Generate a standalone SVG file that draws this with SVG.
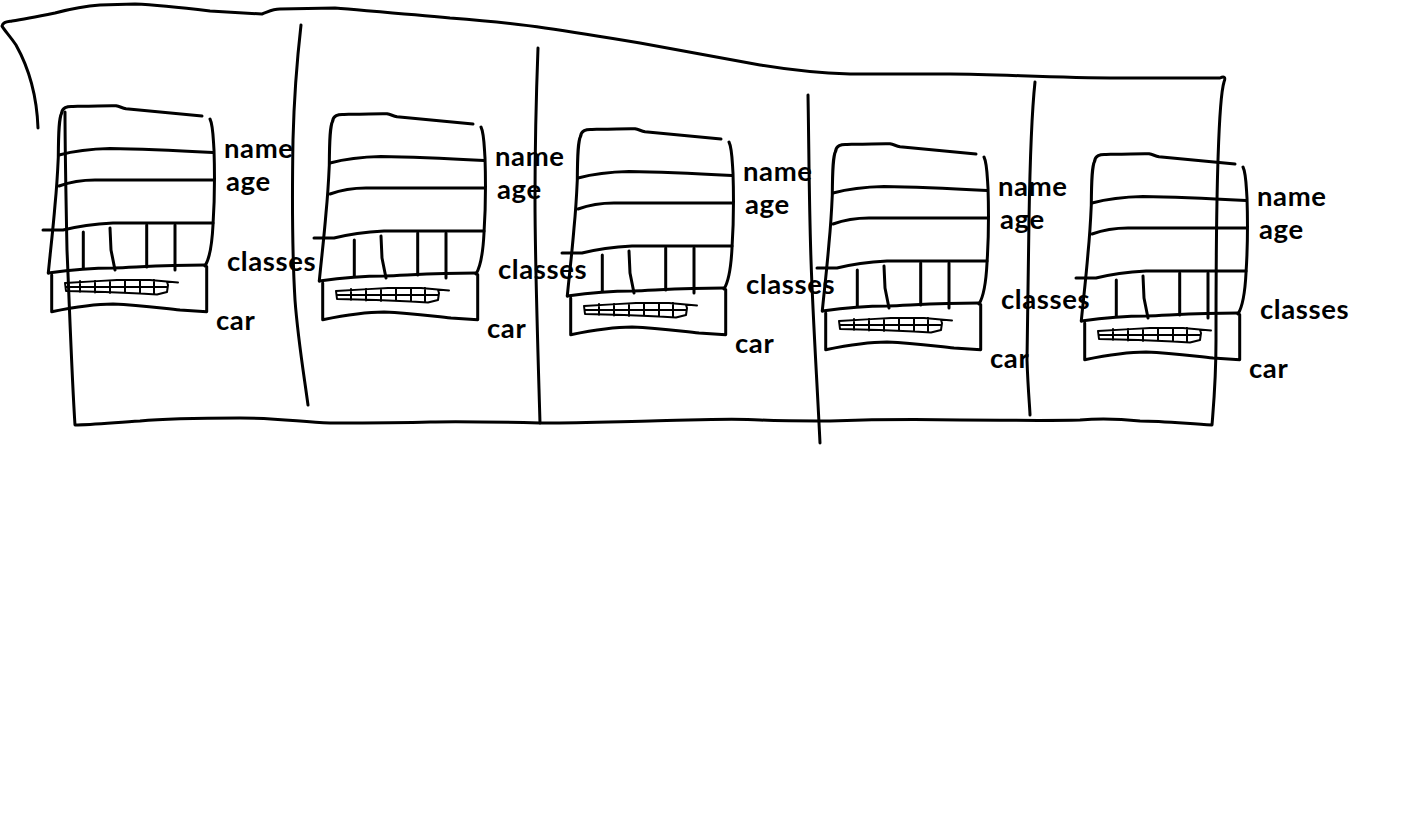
<svg xmlns="http://www.w3.org/2000/svg" width="1420" height="837" viewBox="0 0 1420 837">
<style>
  .s{fill:none;stroke:#000;stroke-width:3;stroke-linecap:round;stroke-linejoin:round}
  .t{fill:none;stroke:#000;stroke-width:2;stroke-linecap:round;stroke-linejoin:round}
  .lbl{font-family:Lato,"Open Sans",sans-serif;font-weight:bold;font-size:27.5px;letter-spacing:0.6px;fill:#000}
</style>
<defs>
  <g id="cabinet">
    <path class="s" d="M61.7,113 C62,108 67,106 73,106.5 C90,106 105,105.5 116,105.7 C120,106.5 122,108 126,108.8 C145,110.5 165,112.5 202,116"/>
    <path class="s" d="M210,119 C213,125 213,135 214,150 C215,180 214,210 213,225 C212,245 210,258 205,266"/>
    <path class="s" d="M61.7,113 C59,118 58.5,130 58.3,157 C57.5,175 56.5,190 55,205 C53,230 50,255 48.3,273"/>
    <path class="s" d="M59,155 C70,152 85,149 110,148.5 C140,149 165,150 213,152.5"/>
    <path class="s" d="M59,186 C70,182 80,180 95,180 L213,180"/>
    <path class="s" d="M43,230 L63,230 C75,227 95,224 113,223 L213,223"/>
    <path class="s" d="M83.3,232 L83.3,268 M110,228 L111,250 L115,270 M146.7,225 L146.7,267 M175,225 L175,270"/>
    <path class="s" d="M48.3,273 C70,270 100,268 113,268 C140,267 165,265 205,265"/>
    <path class="s" d="M51.7,275 L51.7,311.7 C70,308 95,304 113,304 C140,305 160,308 180,310 L206.7,311.7 L206.7,266.5"/>
    <path class="t" d="M65,283 C80,282 100,281 117,280 L150,280 L178,282.5 M65,283 L66,291 C90,291.5 120,292.5 140,293.5 L157,294.5 L167,292 L168,285 L167,282 M66,287 L167,287 M80,281 L80,292 M95,281 L95,292.5 M110,280.5 L110,293 M125,280 L125,293 M140,280 L140,293.5 M154,280 L154,294"/>
  </g>
</defs>
<g id="connectors">
  <path id="outline" class="s" d="M38,128 C37,100 30,70 16,45 C10,36 4,30 2,26 C3,22 6,22 12,21 C25,19 40,16 55,13 C70,9 85,6 100,5 L135,4 C160,5 185,8 210,11 L262,14 C268,12 272,9 280,9 L335,8 C370,11 410,14 450,18 C490,21 520,24 545,28 C580,33 610,38 640,43 C680,50 720,58 760,65 C790,70 815,73 850,74 L950,74 C1000,74 1050,78 1120,78 L1220,78 C1224,76 1226,77 1224,82 C1220,95 1219,130 1218,160 C1216,220 1216,280 1216,340 C1216,380 1214,400 1212,425 C1180,423 1160,421 1140,421 C1120,419 1105,418 1080,420 C1040,421 1000,420 960,420 C900,419 860,420 830,421 C800,421 780,421 760,420 C730,418 700,420 650,421 C600,422 570,423 540,423 C500,422 460,421 430,422 C400,423 360,423 330,423 C300,422 280,418 240,418 C200,418 170,418 140,421 C110,423 90,425 75,425 C72,380 70,320 67,250 C66,200 65,150 65,112"/>
  <path class="s" d="M301,25 C297,60 294,100 293,140 C292,200 292,250 295,300 C298,340 304,375 308,405"/>
  <path class="s" d="M538,48 C536,100 535,150 535,200 C535,260 537,320 540,423"/>
  <path class="s" d="M808,95 C809,150 809,200 811,260 C813,320 817,380 820,443"/>
  <path class="s" d="M1035,82 C1032,110 1030,160 1029,220 C1028,280 1027,330 1027,360 C1028,390 1030,410 1030,415"/>
</g>
<g id="node1">
  <use href="#cabinet"/>
  <text class="lbl" x="224" y="157.5">name</text>
  <text class="lbl" x="226" y="190.6">age</text>
  <text class="lbl" x="227" y="271">classes</text>
  <text class="lbl" x="216" y="330">car</text>
</g>
<g id="node2" transform="translate(271,8)">
  <use href="#cabinet"/>
  <text class="lbl" x="224" y="157.5">name</text>
  <text class="lbl" x="226" y="190.6">age</text>
  <text class="lbl" x="227" y="271">classes</text>
  <text class="lbl" x="216" y="330">car</text>
</g>
<g id="node3" transform="translate(519,23)">
  <use href="#cabinet"/>
  <text class="lbl" x="224" y="157.5">name</text>
  <text class="lbl" x="226" y="190.6">age</text>
  <text class="lbl" x="227" y="271">classes</text>
  <text class="lbl" x="216" y="330">car</text>
</g>
<g id="node4" transform="translate(774,38)">
  <use href="#cabinet"/>
  <text class="lbl" x="224" y="157.5">name</text>
  <text class="lbl" x="226" y="190.6">age</text>
  <text class="lbl" x="227" y="271">classes</text>
  <text class="lbl" x="216" y="330">car</text>
</g>
<g id="node5" transform="translate(1033,48)">
  <use href="#cabinet"/>
  <text class="lbl" x="224" y="157.5">name</text>
  <text class="lbl" x="226" y="190.6">age</text>
  <text class="lbl" x="227" y="271">classes</text>
  <text class="lbl" x="216" y="330">car</text>
</g>
</svg>
